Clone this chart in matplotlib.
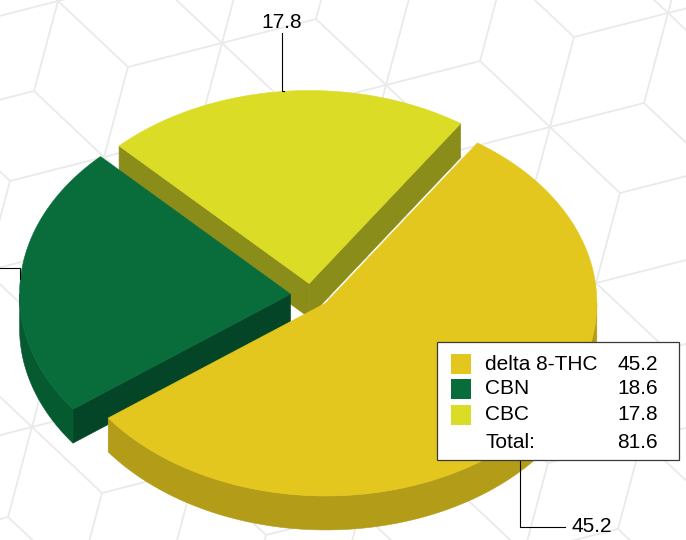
import numpy as np
import matplotlib
matplotlib.use("Agg")
import matplotlib.pyplot as plt
from matplotlib.patches import Polygon, Rectangle
from matplotlib.collections import LineCollection

plt.rcParams['font.family'] = ['Liberation Sans', 'DejaVu Sans']

# ---------------- data ----------------
labels = ["delta 8-THC", "CBN", "CBC"]
values = [45.2, 18.6, 17.8]
top_colors = ["#E3C71F", "#096C3B", "#DADC26"]
side_colors = ["#B39D18", "#065A2F", "#8B8D1A"]
cut_colors = ["#A89216", "#044527", "#8B8D1A"]
total_label = "Total:"

# ---------------- layout ----------------
W, H = 686, 540
cx, cy = 311.0, 295.0        # pie centre (pixels)
Rx, Ry = 271.0, 193.0        # ellipse radii
depth = 34.0                 # thickness
ex, ey = 20.5, 11.5          # explode offsets
start = 56.0                 # start angle (deg), clockwise order

fig = plt.figure(figsize=(W / 100, H / 100), dpi=100)
ax = fig.add_axes([0, 0, 1, 1])
ax.set_xlim(0, W)
ax.set_ylim(H, 0)
ax.axis('off')

# ---------------- background cube pattern ----------------
u = np.array([70.0, 66.0])
v = np.array([94.0, -24.0])
h0 = np.array([550.0, 127.0])
g1, g2 = u + v, 2 * u - v
segs = []
for i in range(-10, 11):
    for j in range(-10, 11):
        p = h0 + i * g1 + j * g2
        if -250 < p[0] < W + 250 and -250 < p[1] < H + 250:
            for d in (u, v, u - v):
                segs.append([p - d, p + d])
ax.add_collection(LineCollection(segs, colors="#EAEAEA", linewidths=1.3, zorder=0))

# ---------------- 3D pie ----------------
total = sum(values)
fracs = [val / total * 360.0 for val in values]
cum = np.concatenate([[0], np.cumsum(fracs)])

sides = []   # (depth key, polygon pts, color)
tops = []
anchors = []
for k in range(len(values)):
    hi = start - cum[k]
    lo = start - cum[k + 1]
    m = np.radians((lo + hi) / 2)
    sx = cx + ex * np.cos(m)
    sy = cy - ey * np.sin(m)

    def rim(t, dz=0.0):
        t = np.radians(t)
        return np.column_stack([sx + Rx * np.cos(t), sy - Ry * np.sin(t) + dz])

    ts = np.linspace(lo, hi, 200)
    top = np.vstack([[[sx, sy]], rim(ts)])
    tops.append((top, top_colors[k]))
    anchors.append((sx + Rx * np.cos(m), sy - Ry * np.sin(m)))

    # curved outer side: visible where sin(t) < 0
    base = np.floor(lo / 360.0) * 360.0
    for off in (base - 360, base, base + 360):
        a, b = max(lo, off + 180), min(hi, off + 360)
        if b > a:
            tt = np.linspace(a, b, 200)
            poly = np.vstack([rim(tt), rim(tt[::-1], depth)])
            sides.append((poly[:, 1].mean(), poly, side_colors[k]))

    # radial cut faces
    for ang, vis in ((lo, np.cos(np.radians(lo)) > 0), (hi, np.cos(np.radians(hi)) < 0)):
        if vis:
            r0 = rim([ang])[0]
            poly = np.array([[sx, sy], r0, r0 + [0, depth], [sx, sy + depth]])
            sides.append((poly[:, 1].mean(), poly, cut_colors[k]))

for _, poly, col in sorted(sides, key=lambda s: s[0]):
    ax.add_patch(Polygon(poly, closed=True, facecolor=col, edgecolor=col, lw=0.4, zorder=2))
for poly, col in tops:
    ax.add_patch(Polygon(poly, closed=True, facecolor=col, edgecolor=col, lw=0.4, zorder=3))

# ---------------- value labels with leaders ----------------
fs = 15
lab_pos = [(571, 527), (-40, 268), (282, 22)]
for k, (ax_, ay_) in enumerate(anchors):
    tx, ty = lab_pos[k]
    txt = f"{values[k]:.1f}"
    if k == 0:      # bottom-right: down then right
        pts = [(ax_, ay_), (ax_ - 2, ay_), (ax_ - 2, ty), (tx - 6, ty)]
        ax.text(tx, ty, txt, ha='left', va='center', fontsize=fs, zorder=5)
    elif k == 1:    # left: up then left (label falls outside the canvas, as in the source)
        pts = [(ax_, ay_), (ax_, ty), (tx + 6, ty)]
    else:           # top: left then up
        pts = [(ax_, ay_), (tx, ay_), (tx, ty + 11)]
        ax.text(tx, ty, txt, ha='center', va='center', fontsize=fs, zorder=5)
    pts = np.array(pts)
    ax.plot(pts[:, 0], pts[:, 1], color='black', lw=0.8, zorder=4, solid_joinstyle='miter')

# ---------------- legend ----------------
bx0, by0, bx1, by1 = 437, 342, 679, 460
ax.add_patch(Rectangle((bx0, by0), bx1 - bx0, by1 - by0, facecolor='white',
                       edgecolor='#3A3A3A', lw=0.9, zorder=6))
row_y = [364, 389, 415]
for k in range(len(values)):
    ax.add_patch(Rectangle((451, row_y[k] - 10), 20, 20, facecolor=top_colors[k],
                           edgecolor='none', zorder=7))
    ax.text(485, row_y[k], labels[k], ha='left', va='center', fontsize=fs, zorder=7)
    ax.text(658, row_y[k], f"{values[k]:.1f}", ha='right', va='center', fontsize=fs, zorder=7)
ax.text(485, 443, total_label, ha='left', va='center', fontsize=fs, zorder=7)
ax.text(658, 443, f"{total:.1f}", ha='right', va='center', fontsize=fs, zorder=7)

fig.savefig("out.png", dpi=100)
